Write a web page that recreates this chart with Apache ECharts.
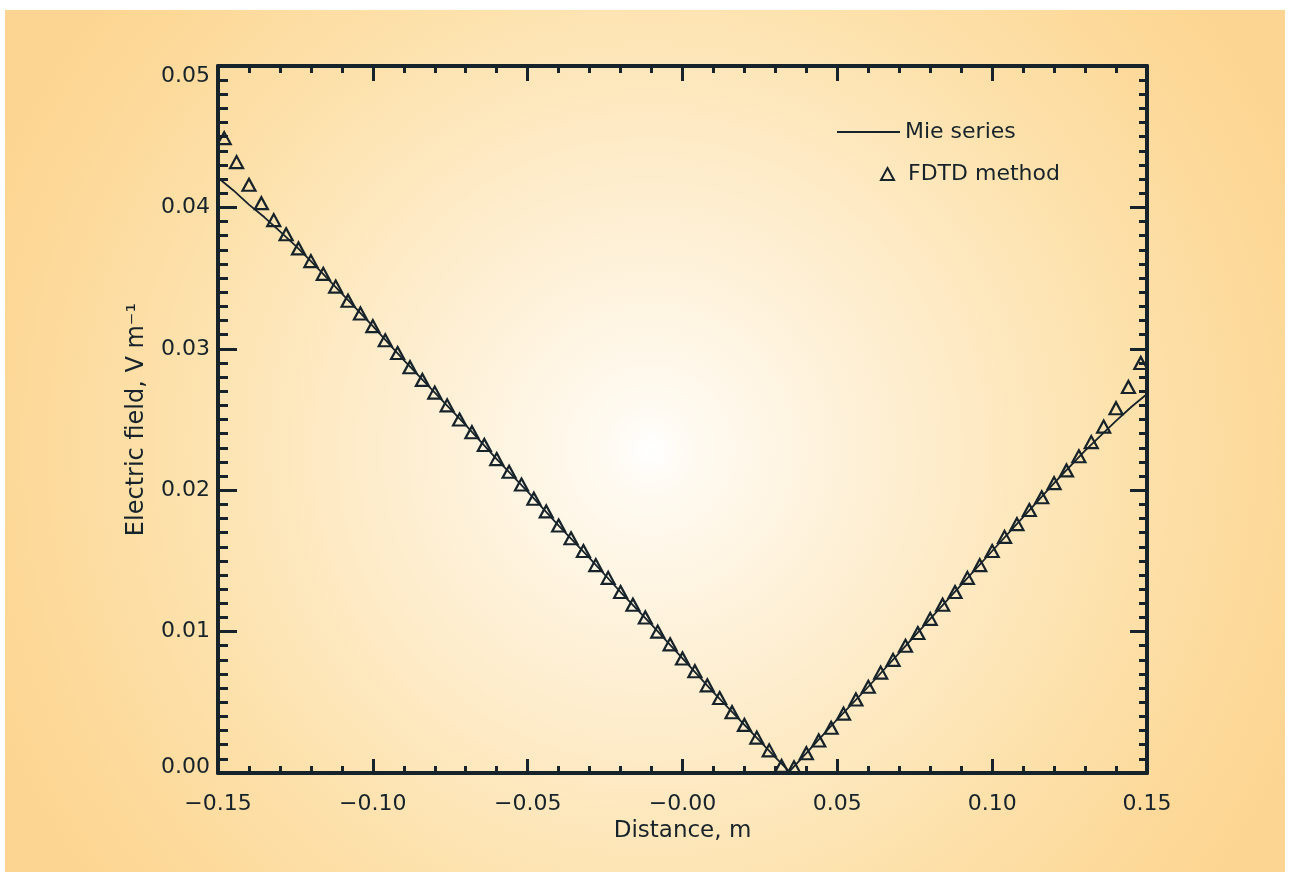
<!DOCTYPE html>
<html>
<head>
<meta charset="utf-8">
<script src="https://cdn.jsdelivr.net/npm/echarts@6.0.0/dist/echarts.min.js"></script>
<style>
html,body{margin:0;padding:0;background:#ffffff;}
#chart{width:1290px;height:882px;}
</style>
</head>
<body>
<div id="chart"></div>
<script>
// ---- data ----
const mieX = [-0.150,-0.145,-0.140,-0.135,-0.130,-0.125,-0.120,-0.110,-0.100,-0.090,-0.080,-0.070,-0.060,-0.050,-0.040,-0.030,-0.020,-0.010,0.000,0.010,0.020,0.030,0.0345,0.040,0.050,0.060,0.070,0.080,0.090,0.100,0.110,0.120,0.130,0.140,0.145,0.150];
const mieY = [0.0421,0.0412,0.0402,0.0393,0.0383,0.0373,0.0362,0.0339,0.0316,0.0292,0.0269,0.0246,0.0222,0.0199,0.0175,0.0152,0.0128,0.0105,0.0081,0.0057,0.0034,0.0011,0.0001,0.0014,0.0038,0.0061,0.0085,0.0109,0.0133,0.0157,0.0181,0.0205,0.0228,0.0249,0.0259,0.0268];

const fdtdX = [-0.148,-0.144,-0.140,-0.136,-0.132,-0.128,-0.124,-0.120,-0.116,-0.112,-0.108,-0.104,-0.100,-0.096,-0.092,-0.088,-0.084,-0.080,-0.076,-0.072,-0.068,-0.064,-0.060,-0.056,-0.052,-0.048,-0.044,-0.040,-0.036,-0.032,-0.028,-0.024,-0.020,-0.016,-0.012,-0.008,-0.004,0.000,0.004,0.008,0.012,0.016,0.020,0.024,0.028,0.032,0.036,0.040,0.044,0.048,0.052,0.056,0.060,0.064,0.068,0.072,0.076,0.080,0.084,0.088,0.092,0.096,0.100,0.104,0.108,0.112,0.116,0.120,0.124,0.128,0.132,0.136,0.140,0.144,0.148];
const fdtdY = [0.0449,0.0432,0.0416,0.0403,0.0391,0.0381,0.0371,0.0362,0.0353,0.0344,0.0334,0.0325,0.0316,0.0306,0.0297,0.0287,0.0278,0.0269,0.0260,0.0250,0.0241,0.0232,0.0222,0.0213,0.0204,0.0194,0.0185,0.0175,0.0166,0.0157,0.0147,0.0138,0.0128,0.0119,0.0110,0.0100,0.0091,0.0081,0.0072,0.0062,0.0053,0.0043,0.0034,0.0025,0.0016,0.0005,0.0004,0.0014,0.0023,0.0032,0.0042,0.0052,0.0061,0.0071,0.0080,0.0090,0.0099,0.0109,0.0119,0.0128,0.0138,0.0147,0.0157,0.0167,0.0176,0.0186,0.0195,0.0205,0.0214,0.0224,0.0234,0.0245,0.0258,0.0273,0.0290];

const xTickLabels = ['\u22120.15','\u22120.10','\u22120.05','\u22120.00','0.05','0.10','0.15'];
const yTickLabels = ['0.00','0.01','0.02','0.03','0.04','0.05'];

const seriesNames = ['Mie series','FDTD method'];
const xTitle = 'Distance, m';
const yTitle = 'Electric field, V m\u207B\u00B9';

// ---- chart ----
const INK = '#16232a';
const FONT = 'DejaVu Sans';
const X_MIN = -0.15, X_MAX = 0.15, X_INT = 0.05;
const Y_MIN = 0, Y_MAX = 0.05, Y_INT = 0.01;

const chart = echarts.init(document.getElementById('chart'), null, {renderer: 'canvas'});

function xAxisBase(pos, showLabel, majorLen, minorLen) {
  return {
    type: 'value', position: pos, min: X_MIN, max: X_MAX, interval: X_INT,
    axisLine: {show: true, onZero: false, lineStyle: {color: INK, width: 4}},
    axisTick: {show: true, inside: true, length: majorLen, lineStyle: {color: INK, width: 3}},
    minorTick: {show: true, splitNumber: 5, length: minorLen, lineStyle: {color: INK, width: 3}},
    splitLine: {show: false},
    axisLabel: {
      show: showLabel, margin: 20, color: INK, fontFamily: FONT, fontSize: 22,
      formatter: v => xTickLabels[Math.round((v - X_MIN) / X_INT)]
    }
  };
}
function yAxisBase(pos, showLabel, majorLen, minorLen) {
  return {
    type: 'value', position: pos, min: Y_MIN, max: Y_MAX, interval: Y_INT,
    axisLine: {show: true, onZero: false, lineStyle: {color: INK, width: 4}},
    axisTick: {show: true, inside: true, length: majorLen, lineStyle: {color: INK, width: 3}},
    minorTick: {show: true, splitNumber: 10, length: minorLen, lineStyle: {color: INK, width: 3}},
    splitLine: {show: false},
    axisLabel: {
      show: showLabel, margin: 8, color: INK, fontFamily: FONT, fontSize: 22,
      formatter: v => {
        const i = Math.round((v - Y_MIN) / Y_INT);
        const t = yTickLabels[i];
        if (i === 0) return '{lo|' + t + '}';
        if (i === yTickLabels.length - 1) return '{hi|' + t + '}';
        return t;
      },
      rich: {
        lo: {color: INK, fontFamily: FONT, fontSize: 22, padding: [0, 0, 12, 0]},
        hi: {color: INK, fontFamily: FONT, fontSize: 22, padding: [20, 0, 0, 0]}
      }
    }
  };
}

const xBottom = xAxisBase('bottom', true, 14, 7);
xBottom.name = xTitle;
xBottom.nameLocation = 'middle';
xBottom.nameGap = 46;
xBottom.nameTextStyle = {color: INK, fontFamily: FONT, fontSize: 23};
const xTop = xAxisBase('top', false, 15, 7);

const yLeft = yAxisBase('left', true, 19, 10);
yLeft.name = yTitle;
yLeft.nameLocation = 'middle';
yLeft.nameGap = 69;
yLeft.nameRotate = 90;
yLeft.nameTextStyle = {color: INK, fontFamily: FONT, fontSize: 24};
const yRight = yAxisBase('right', false, 17, 8);

const option = {
  backgroundColor: '#ffffff',
  animation: false,
  graphic: [{
    type: 'rect', z: -100, silent: true,
    shape: {x: 5, y: 10, width: 1280, height: 862},
    style: {
      fill: {
        type: 'radial', x: 650, y: 450, r: 720, global: true,
        colorStops: [
          {offset: 0, color: '#ffffff'},
          {offset: 0.06, color: '#fffaf1'},
          {offset: 0.35, color: '#feeed0'},
          {offset: 0.65, color: '#fde2ad'},
          {offset: 0.9, color: '#fdd897'},
          {offset: 1, color: '#fdd592'}
        ]
      }
    }
  }],
  grid: {left: 218, right: 143, top: 66, bottom: 109, containLabel: false, outerBoundsMode: 'none'},
  xAxis: [xBottom, xTop],
  yAxis: [yLeft, yRight],
  legend: [{
    data: [{name: seriesNames[0], icon: 'rect'}], left: 837, top: 121, padding: 0,
    itemWidth: 63, itemHeight: 2, itemGap: 0,
    itemStyle: {color: INK, borderWidth: 0, opacity: 1},
    textStyle: {color: INK, fontFamily: FONT, fontSize: 22}
  }, {
    data: [{name: seriesNames[1], icon: 'triangle'}], left: 880, top: 163, padding: 0,
    itemWidth: 13, itemHeight: 12, itemGap: 0,
    itemStyle: {color: 'rgba(0,0,0,0)', borderColor: INK, borderWidth: 2, opacity: 1},
    textStyle: {color: INK, fontFamily: FONT, fontSize: 22, padding: [0, 0, 0, 9]}
  }],
  series: [{
    name: seriesNames[0], type: 'line', xAxisIndex: 0, yAxisIndex: 0,
    data: mieX.map((x, i) => [x, mieY[i]]),
    symbol: 'none', showSymbol: false, color: INK,
    lineStyle: {color: INK, width: 1.8}, z: 3
  }, {
    name: seriesNames[1], type: 'scatter', xAxisIndex: 0, yAxisIndex: 0,
    data: fdtdX.map((x, i) => [x, fdtdY[i]]),
    symbol: 'triangle', symbolSize: [13, 12], color: INK,
    itemStyle: {color: 'rgba(0,0,0,0)', borderColor: INK, borderWidth: 2.2, opacity: 1},
    z: 4
  }]
};
chart.setOption(option);
</script>
</body>
</html>
